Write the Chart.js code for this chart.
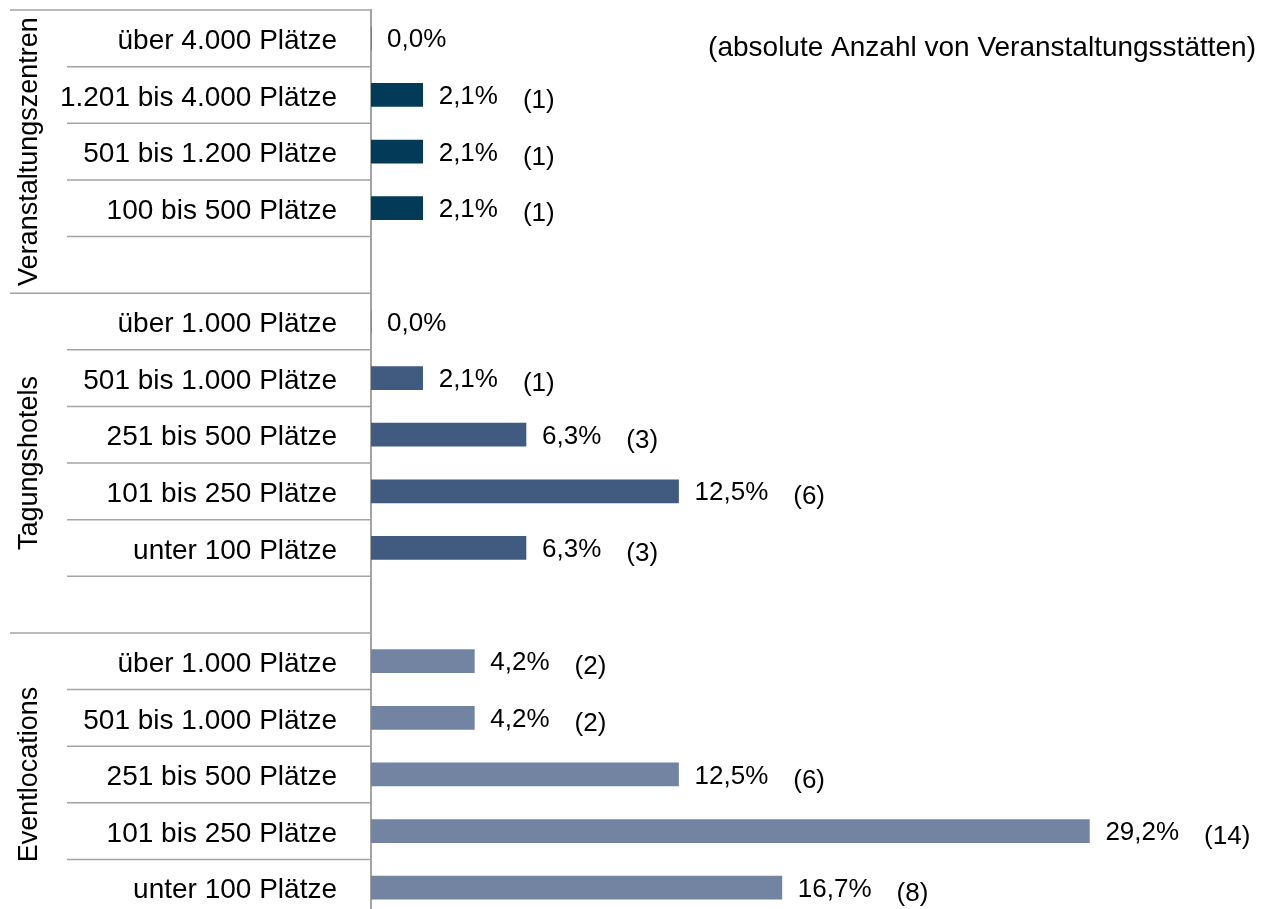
<!DOCTYPE html>
<html>
<head>
<meta charset="utf-8">
<script src="https://cdn.jsdelivr.net/npm/chart.js@4"></script>
<style>
html, body { margin: 0; padding: 0; background: #fff; overflow: hidden; }
</style>
</head>
<body>
<canvas id="chart" width="1269" height="926"></canvas>
<script>
"use strict";
// rows top to bottom, '' = empty spacer row at the end of a group
const categories = [
    'über 4.000 Plätze', '1.201 bis 4.000 Plätze', '501 bis 1.200 Plätze', '100 bis 500 Plätze', '',
    'über 1.000 Plätze', '501 bis 1.000 Plätze', '251 bis 500 Plätze', '101 bis 250 Plätze', 'unter 100 Plätze', '',
    'über 1.000 Plätze', '501 bis 1.000 Plätze', '251 bis 500 Plätze', '101 bis 250 Plätze', 'unter 100 Plätze'
];
const shares = [
    0.0, 2.1, 2.1, 2.1, null,
    0.0, 2.1, 6.3, 12.5, 6.3, null,
    4.2, 4.2, 12.5, 29.2, 16.7
];
const counts = [
    null, 1, 1, 1, null,
    null, 1, 3, 6, 3, null,
    2, 2, 6, 14, 8
];
const groupNames = ['Veranstaltungszentren', 'Tagungshotels', 'Eventlocations'];
const groupRows = [5, 6, 5];
const groupColors = ['#023a57', '#415a80', '#7383a2'];
const note = '(absolute Anzahl von Veranstaltungsstätten)';

const FONT = '"Liberation Sans", Arial, sans-serif';
const LINE = '#a3a3a3';

// first row index of each group
const groupStart = [];
let acc = 0;
for (let g = 0; g < groupRows.length; g++) {
    groupStart.push(acc);
    acc += groupRows[g];
}
function groupOf(i) {
    let g = 0;
    while (g + 1 < groupStart.length && i >= groupStart[g + 1]) g++;
    return g;
}
const barColors = categories.map((c, i) => groupColors[groupOf(i)]);

function fmtShare(v) {
    return v.toFixed(1).replace('.', ',') + '%';
}

// separator lines in the label area + rotated group names
const rowLines = {
    id: 'rowLines',
    afterDraw(chart) {
        const ctx = chart.ctx;
        const y = chart.scales.y;
        const step = y.getPixelForValue(1) - y.getPixelForValue(0);
        const right = chart.chartArea.left;
        const edge = (i) => y.getPixelForValue(i) - step / 2;
        ctx.save();
        ctx.strokeStyle = LINE;
        ctx.lineWidth = 1.5;
        for (let i = 0; i <= categories.length; i++) {
            const left = groupStart.indexOf(i) >= 0 ? 10 : 67;
            ctx.beginPath();
            ctx.moveTo(left, edge(i));
            ctx.lineTo(right, edge(i));
            ctx.stroke();
        }
        ctx.fillStyle = '#000';
        ctx.font = '27px ' + FONT;
        ctx.textAlign = 'center';
        ctx.textBaseline = 'middle';
        for (let g = 0; g < groupNames.length; g++) {
            const mid = (edge(groupStart[g]) + edge(groupStart[g] + groupRows[g])) / 2;
            ctx.save();
            ctx.translate(30, mid);
            ctx.rotate(-Math.PI / 2);
            ctx.fillText(groupNames[g], 0, 0);
            ctx.restore();
        }
        // note in the top right corner
        ctx.font = '28px ' + FONT;
        ctx.textAlign = 'right';
        ctx.fillText(note, 1256, 48);
        ctx.restore();
    }
};

// percent labels and counts after each bar
const barLabels = {
    id: 'barLabels',
    afterDatasetsDraw(chart) {
        const ctx = chart.ctx;
        const meta = chart.getDatasetMeta(0);
        ctx.save();
        ctx.fillStyle = '#000';
        ctx.font = '26px ' + FONT;
        ctx.textAlign = 'left';
        ctx.textBaseline = 'middle';
        meta.data.forEach((bar, i) => {
            if (shares[i] === null) return;
            const txt = fmtShare(shares[i]);
            const x = bar.x + 16;
            const yy = bar.y + 2;
            ctx.fillText(txt, x, yy);
            if (counts[i] !== null) {
                const w = ctx.measureText(txt).width;
                ctx.fillText('(' + counts[i] + ')', x + w + 25, yy + 4);
            }
        });
        ctx.restore();
    }
};

const data = {
    labels: categories,
    datasets: [{
        data: shares,
        backgroundColor: barColors,
        borderWidth: 0,
        barThickness: 23
    }]
};

const opt = {
    indexAxis: 'y',
    responsive: false,
    animation: false,
    layout: { padding: { top: 10, bottom: 10, left: 0, right: 0 } },
    plugins: {
        legend: { display: false },
        tooltip: { enabled: false }
    },
    scales: {
        x: {
            display: false,
            min: 0,
            max: 36.5
        },
        y: {
            grid: { display: false },
            border: { display: true, color: LINE, width: 2 },
            ticks: {
                color: '#000',
                autoSkip: false,
                padding: 26,
                labelOffset: 3,
                font: { family: FONT, size: 28 }
            },
            afterFit(scale) {
                scale.width = 371;
                // no extra room above/below for the tick labels
                scale.paddingTop = 0;
                scale.paddingBottom = 0;
            }
        }
    }
};

new Chart(document.getElementById('chart'), {
    type: 'bar',
    data: data,
    options: opt,
    plugins: [rowLines, barLabels]
});
</script>
</body>
</html>
